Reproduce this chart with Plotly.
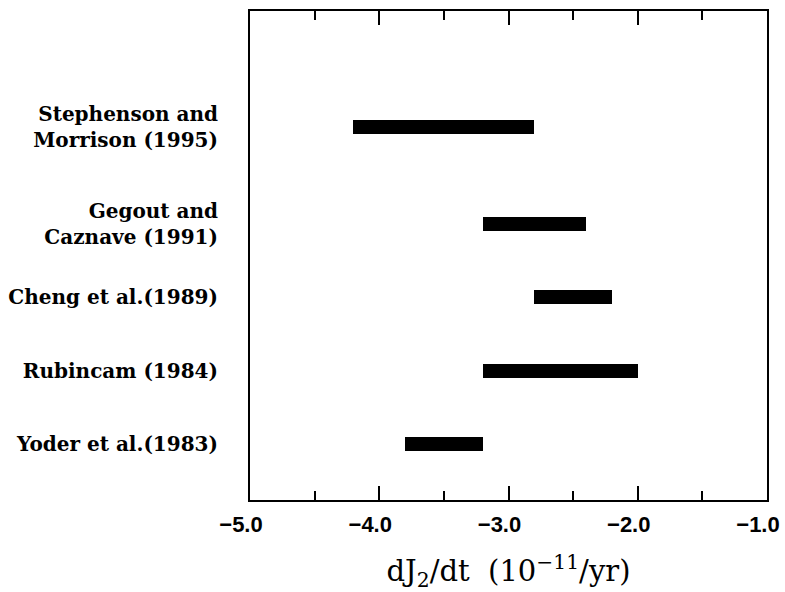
import plotly.graph_objects as go

studies = ["Yoder et al.(1983)", "Rubincam (1984)", "Cheng et al.(1989)",
           "Gegout and<br>Caznave (1991)", "Stephenson and<br>Morrison (1995)"]
y_pos = [1.0, 2.0, 3.0, 4.0, 5.32]
low = [-3.8, -3.2, -2.8, -3.2, -4.2]
high = [-3.2, -2.0, -2.2, -2.4, -2.8]
x_ticks = [-5.0, -4.0, -3.0, -2.0, -1.0]
x_tick_labels = ["−5.0", "−4.0", "−3.0", "−2.0", "−1.0"]

fig = go.Figure()
fig.add_trace(go.Bar(
    orientation="h",
    y=y_pos,
    x=[h - l for l, h in zip(low, high)],
    base=low,
    width=0.19,
    marker=dict(color="black", line=dict(width=0)),
    showlegend=False,
))

fig.update_layout(
    width=785, height=592,
    margin=dict(l=250, r=18, t=11, b=92),
    plot_bgcolor="white", paper_bgcolor="white",
    bargap=0,
)
fig.update_xaxes(
    range=[-5.0, -1.0], automargin=False,
    tickvals=x_ticks, ticktext=x_tick_labels,
    ticks="inside", ticklen=14, tickwidth=2, tickcolor="black",
    minor=dict(dtick=0.5, ticks="inside", ticklen=9, tickwidth=2, tickcolor="black", showgrid=False),
    showline=True, linecolor="black", linewidth=2, mirror="ticks",
    showgrid=False, zeroline=False,
    ticklabeloverflow="allow", ticklabelshift=-9, ticklabelstandoff=4,
    tickfont=dict(family="Liberation Sans", size=22, color="black", weight="bold"),
    title=dict(text="dJ<sub>2</sub>/dt  (10<sup>−11</sup>/yr)",
               font=dict(family="DejaVu Serif", size=29, color="black"), standoff=24),
)
fig.update_yaxes(
    range=[0.236, 6.9], automargin=False,
    tickvals=y_pos, ticktext=studies,
    ticks="", ticklabelstandoff=26,
    showline=True, linecolor="black", linewidth=2, mirror=True,
    showgrid=False, zeroline=False,
    tickfont=dict(family="DejaVu Serif", size=20, color="black", weight="bold"),
)

fig.write_html("out.html")
